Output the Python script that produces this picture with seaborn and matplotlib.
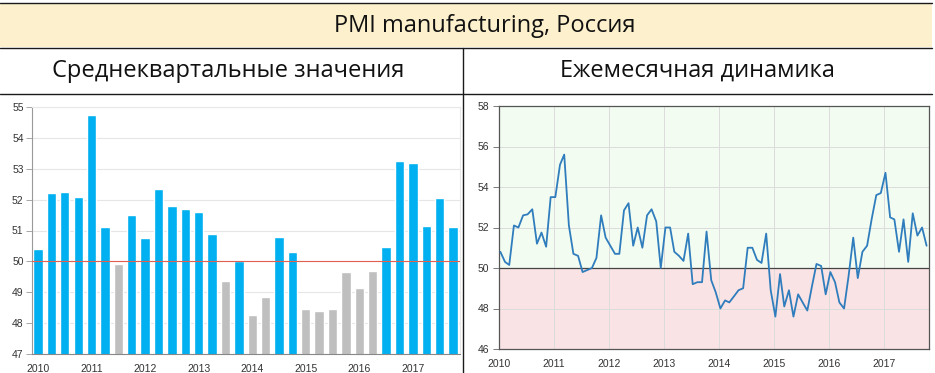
"""PMI manufacturing, Russia: quarterly averages and monthly dynamics"""

import matplotlib

matplotlib.use("Agg")
import matplotlib.pyplot as plt
import matplotlib.dates as mdates
from matplotlib.lines import Line2D
from matplotlib.patches import Rectangle
import pandas as pd
import seaborn as sns

##### Data ####################################################################
TITLE = "PMI manufacturing, Россия"
LEFT_TITLE = "Среднеквартальные значения"
RIGHT_TITLE = "Ежемесячная динамика"

years = ["2010", "2011", "2012", "2013", "2014", "2015", "2016", "2017"]

# quarterly averages, 2010Q1 .. 2017Q4
quarter_pmi = [
    50.4, 52.2, 52.25, 52.1,
    54.75, 51.1, 49.9, 51.5,
    50.75, 52.35, 51.8, 51.7,
    51.6, 50.9, 49.35, 50.0,
    48.25, 48.85, 50.8, 50.3,
    48.45, 48.4, 48.45, 49.65,
    49.15, 49.7, 50.45, 53.25,
    53.2, 51.15, 52.05, 51.1,
]

# monthly values, Jan 2010 .. Oct 2017
monthly_pmi = [
    50.8, 50.3, 50.15, 52.1, 52.0, 52.6, 52.65, 52.9, 51.2, 51.75, 51.05, 53.5,
    53.5, 55.1, 55.6, 52.1, 50.7, 50.6, 49.8, 49.9, 50.0, 50.5, 52.6, 51.5,
    51.1, 50.7, 50.7, 52.85, 53.2, 51.1, 52.0, 51.0, 52.6, 52.9, 52.3, 50.0,
    52.0, 52.0, 50.8, 50.6, 50.35, 51.7, 49.2, 49.3, 49.3, 51.8, 49.4, 48.8,
    48.0, 48.4, 48.3, 48.6, 48.9, 49.0, 51.0, 51.0, 50.4, 50.25, 51.7, 48.9,
    47.6, 49.7, 48.1, 48.9, 47.6, 48.7, 48.3, 47.9, 49.1, 50.2, 50.1, 48.7,
    49.8, 49.3, 48.3, 48.0, 49.6, 51.5, 49.5, 50.8, 51.1, 52.4, 53.6, 53.7,
    54.7, 52.5, 52.4, 50.8, 52.4, 50.3, 52.7, 51.6, 52.0, 51.1,
]

##### Style ###################################################################
BLUE = "#00b0f0"
GRAY = "#bfbfbf"
LINE_BLUE = "#2f7dbd"
BAND_FILL = "#fdf0cc"
W, H = 935, 373

sns.set_theme(style="white")
plt.rcParams["font.family"] = ["Liberation Sans", "DejaVu Sans"]
HEAD_FONT = ["Open Sans", "DejaVu Sans"]


def px_box(x0, y0, x1, y1):
    """figure box from pixel coords (origin top-left)"""
    return [x0 / W, 1 - y1 / H, (x1 - x0) / W, (y1 - y0) / H]


def draw_header(fig):
    fig.add_artist(Rectangle((0, 1 - 47 / H), 932 / W, 44 / H,
                             transform=fig.transFigure, color=BAND_FILL, lw=0))
    for y in (2.5, 47.5, 94):
        fig.add_artist(Line2D([0, 932 / W], [1 - y / H] * 2,
                              transform=fig.transFigure, color="#1a1a1a", lw=1.0))
    fig.add_artist(Line2D([463 / W] * 2, [0, 1 - 47.5 / H],
                          transform=fig.transFigure, color="#1a1a1a", lw=1.0))
    fig.text(485 / W, 1 - 26 / H, TITLE, ha="center", va="center",
             fontsize=17, family=HEAD_FONT, color="#111111")
    fig.text(228 / W, 1 - 71 / H, LEFT_TITLE, ha="center", va="center",
             fontsize=17, family=HEAD_FONT, color="#111111")
    fig.text(697 / W, 1 - 71 / H, RIGHT_TITLE, ha="center", va="center",
             fontsize=17, family=HEAD_FONT, color="#111111")


def plot_quarterly(ax):
    df = pd.DataFrame({
        "quarter": [f"{y}Q{q}" for y in years for q in range(1, 5)],
        "pmi": quarter_pmi,
    })
    palette = {k: (BLUE if v >= 50 else GRAY) for k, v in zip(df["quarter"], df["pmi"])}
    sns.barplot(data=df, x="quarter", y="pmi", hue="quarter", palette=palette,
                legend=False, width=0.7, saturation=1, ax=ax)
    ax.set_axisbelow(True)
    ax.yaxis.grid(True, color="#e6e6e6", lw=0.8)
    ax.axhline(50, color="#e2604f", lw=0.8, zorder=3)
    ax.set_ylim(47, 55)
    ax.set_yticks(range(47, 56))
    ax.set_xlim(-0.45, 31.52)
    ax.set_xticks(range(0, 32, 4), years)
    ax.set_xlabel("")
    ax.set_ylabel("")
    ax.tick_params(axis="y", length=4, width=0.6, color="#999999", pad=2,
                   labelsize=7.5, labelcolor="#333333", left=True)
    ax.tick_params(axis="x", length=0, pad=7, labelsize=7.5, labelcolor="#333333")
    for side in ("top", "right"):
        ax.spines[side].set_color("#e8e8e8")
        ax.spines[side].set_linewidth(0.8)
    ax.spines["left"].set_color("#999999")
    ax.spines["bottom"].set_color("#888888")
    for side in ("left", "bottom"):
        ax.spines[side].set_linewidth(0.8)


def plot_monthly(ax):
    dates = pd.date_range("2010-01-01", periods=len(monthly_pmi), freq="MS") + pd.Timedelta(days=9)
    df = pd.DataFrame({"date": dates, "pmi": monthly_pmi})
    ax.axhspan(50, 58, color="#f2fcf1", lw=0, zorder=0)
    ax.axhspan(46, 50, color="#fae3e4", lw=0, zorder=0)
    ax.set_axisbelow(True)
    ax.grid(True, color="#dcdcdc", lw=0.7)
    sns.lineplot(data=df, x="date", y="pmi", color=LINE_BLUE, lw=1.3, ax=ax, zorder=3)
    ax.axhline(50, color="#444444", lw=0.9, zorder=2)
    ax.set_ylim(46, 58)
    ax.set_yticks(range(46, 59, 2))
    ax.set_xlim(pd.Timestamp("2010-01-01"), pd.Timestamp("2017-10-26"))
    ax.xaxis.set_major_locator(mdates.YearLocator())
    ax.xaxis.set_major_formatter(mdates.DateFormatter("%Y"))
    ax.set_xlabel("")
    ax.set_ylabel("")
    ax.tick_params(axis="y", length=4, width=0.6, color="#666666", pad=3,
                   labelsize=7.5, labelcolor="#333333", left=True)
    ax.tick_params(axis="x", length=0, pad=7, labelsize=7.5, labelcolor="#333333")
    for side in ax.spines:
        ax.spines[side].set_color("#555555")
        ax.spines[side].set_linewidth(0.9)


def main():
    fig = plt.figure(figsize=(W / 100, H / 100), dpi=100)
    fig.patch.set_facecolor("white")
    draw_header(fig)
    ax1 = fig.add_axes(px_box(32, 107, 460, 354))
    plot_quarterly(ax1)
    ax2 = fig.add_axes(px_box(499, 106, 929, 349))
    plot_monthly(ax2)
    fig.savefig("out.png", dpi=100)
    plt.close(fig)


if __name__ == "__main__":
    main()
